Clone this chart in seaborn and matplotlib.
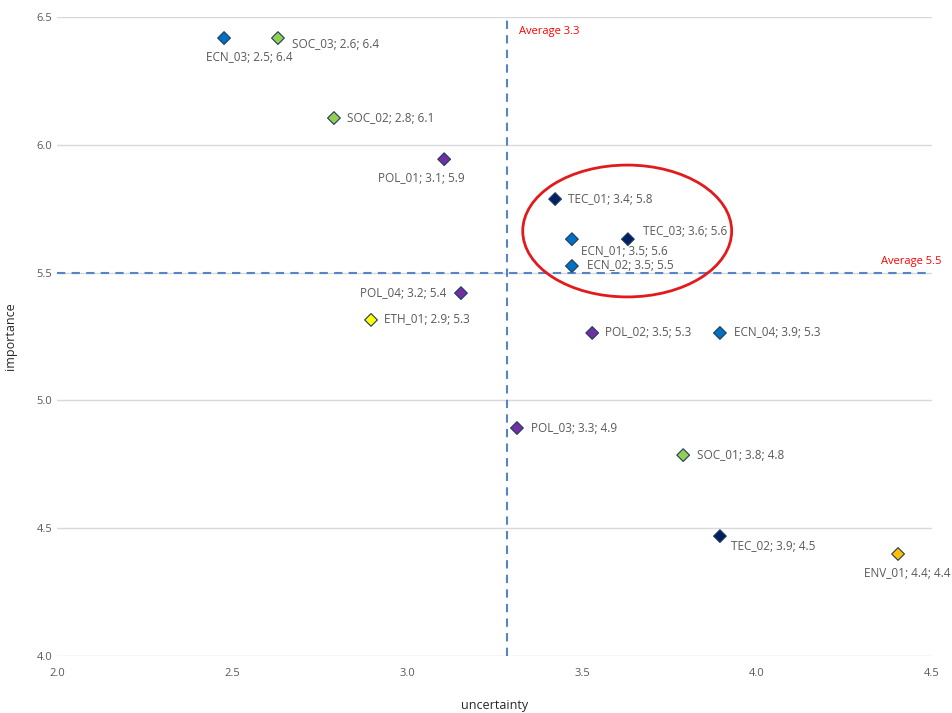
import numpy as np
import pandas as pd
import matplotlib.pyplot as plt
from matplotlib.patches import Ellipse
import seaborn as sns

# values
names = ["ECN_03", "SOC_03", "SOC_02", "POL_01", "TEC_01", "ECN_01", "TEC_03", "ECN_02",
         "POL_04", "ETH_01", "POL_02", "ECN_04", "POL_03", "SOC_01", "TEC_02", "ENV_01"]
uncertainty = [2.477, 2.631, 2.791, 3.106, 3.423, 3.471, 3.631, 3.471,
               3.154, 2.897, 3.529, 3.894, 3.314, 3.789, 3.894, 4.403]
importance = [6.418, 6.418, 6.105, 5.944, 5.788, 5.631, 5.631, 5.526,
              5.420, 5.315, 5.264, 5.264, 4.892, 4.786, 4.469, 4.399]
avg_uncertainty = 3.285
avg_importance = 5.50

group_colors = {"ECN": "#0070C0", "SOC": "#92D050", "POL": "#7030A0",
                "TEC": "#002060", "ETH": "#FFFF00", "ENV": "#FFC000"}

# label offsets in pixels (dx, dy) and horizontal alignment
label_pos = {
    "ECN_03": (25, -19, "center"), "SOC_03": (14, -6, "left"), "SOC_02": (13, 0, "left"),
    "POL_01": (-23, -19, "center"), "TEC_01": (13, 0, "left"), "ECN_01": (9, -12, "left"),
    "TEC_03": (15, 8, "left"), "ECN_02": (15, 1, "left"), "POL_04": (-15, 0, "right"),
    "ETH_01": (13, 0, "left"), "POL_02": (13, 0, "left"), "ECN_04": (14, 0, "left"),
    "POL_03": (14, 0, "left"), "SOC_01": (14, 0, "left"), "TEC_02": (11, -10, "left"),
    "ENV_01": (52, -20, "right"),
}

df = pd.DataFrame({"name": names, "uncertainty": uncertainty, "importance": importance})
df["group"] = df["name"].str[:3]

sns.set_style("white")
plt.rcParams["font.family"] = ["Open Sans", "DejaVu Sans"]

fig = plt.figure(figsize=(9.52, 7.13), dpi=100)
ax = fig.add_axes([0.06, 0.08, 0.919, 0.896])

ax.set_xlim(2.0, 4.5)
ax.set_ylim(4.0, 6.5)
ax.set_yticks(np.arange(4.0, 6.51, 0.5))
ax.set_xticks(np.arange(2.0, 4.51, 0.5))
ax.yaxis.grid(True, color="#D9D9D9", lw=1)
ax.xaxis.grid(False)
for s in ax.spines.values():
    s.set_visible(False)
ax.tick_params(length=0, labelsize=8, colors="#595959")
ax.tick_params(axis="x", pad=9)
ax.set_xticklabels([f"{v:.1f}" for v in np.arange(2.0, 4.51, 0.5)])
ax.set_yticklabels([f"{v:.1f}" for v in np.arange(4.0, 6.51, 0.5)])
ax.set_axisbelow(True)

# average lines
ax.axvline(avg_uncertainty, color="#5584CB", ls=(0, (4, 3)), lw=1.5, zorder=1)
ax.axhline(avg_importance, color="#5584CB", ls=(0, (4, 3)), lw=1.5, zorder=1)
ax.annotate(f"Average {avg_uncertainty:.1f}", (avg_uncertainty, 6.5), xytext=(12, -14),
            textcoords="offset pixels", color="red", fontsize=8, va="center")
ax.annotate(f"Average {avg_importance:.1f}", (4.5, avg_importance), xytext=(9, 11),
            textcoords="offset pixels", color="red", fontsize=8, va="center",
            ha="right", annotation_clip=False)

sns.scatterplot(data=df, x="uncertainty", y="importance", hue="group", palette=group_colors,
                marker="D", s=42, edgecolor="#1F3864", linewidth=0.8, legend=False,
                ax=ax, zorder=3)

for n, x, y in zip(names, uncertainty, importance):
    dx, dy, ha = label_pos[n]
    ax.annotate(f"{n}; {x:.1f}; {y:.1f}", (x, y), xytext=(dx, dy), textcoords="offset pixels",
                fontsize=8.5, color="#595959", ha=ha, va="center", annotation_clip=False)

ax.add_patch(Ellipse((3.629, 5.663), 0.597, 0.516, fill=False, ec="#E31A1C", lw=2, zorder=4))

ax.set_xlabel("uncertainty", fontsize=9, labelpad=14)
ax.set_ylabel("importance", fontsize=9, labelpad=14)

fig.savefig("out.png", dpi=100)
